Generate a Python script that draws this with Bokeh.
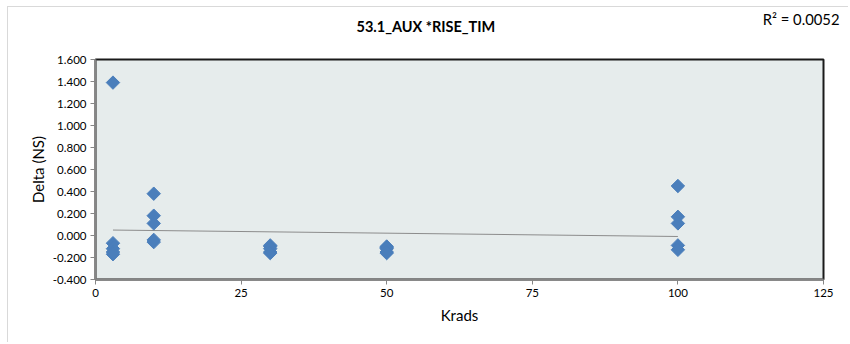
import numpy as np
from bokeh.plotting import figure
from bokeh.models import Label, NumeralTickFormatter, FixedTicker, Range1d, ColumnDataSource
from bokeh.embed import file_html
from bokeh.resources import INLINE

# Data
dose_levels = [3, 10, 30, 50, 100]
delta_3 = [1.39, -0.07, -0.12, -0.15, -0.17]
delta_10 = [0.38, 0.18, 0.11, -0.04, -0.06]
delta_30 = [-0.09, -0.10, -0.12, -0.15, -0.16]
delta_50 = [-0.10, -0.11, -0.12, -0.15, -0.16]
delta_100 = [0.45, 0.17, 0.11, -0.09, -0.13]
x_ticks = [0, 25, 50, 75, 100, 125]
y_ticks = [-0.4, -0.2, 0.0, 0.2, 0.4, 0.6, 0.8, 1.0, 1.2, 1.4, 1.6]
title_text = "53.1_AUX  *RISE_TIM"
r2_text = "R\u00b2 = 0.0052"

groups = [delta_3, delta_10, delta_30, delta_50, delta_100]
xs, ys = [], []
for d, vals in zip(dose_levels, groups):
    xs += [d] * len(vals)
    ys += vals
xs = np.array(xs, dtype=float)
ys = np.array(ys, dtype=float)
slope, intercept = np.polyfit(xs, ys, 1)
fit_x = np.array([xs.min(), xs.max()])
fit_y = slope * fit_x + intercept

FONT = "Lato"

p = figure(width=841, height=336, output_backend="svg", toolbar_location=None,
           x_range=Range1d(0, 125), y_range=Range1d(-0.4, 1.6),
           min_border_left=87, min_border_right=26, min_border_top=52, min_border_bottom=64,
           background_fill_color="#e6ecec", border_fill_color="white")
p.styles = {"margin-left": "7px", "margin-top": "6px",
            "border-top": "1px solid #d9d9d9", "border-left": "1px solid #d9d9d9"}
p.grid.visible = False
p.outline_line_color = "#1a1a1a"
p.outline_line_width = 2

p.title.text = title_text
p.title.align = "left"
p.title.offset = 261
p.title.standoff = 13
p.title.text_font = FONT
p.title.text_font_style = "bold"
p.title.text_font_size = "14.5px"
p.title.text_color = "#000000"

r2_label = Label(x=744, y=41, x_units="screen", y_units="screen", text=r2_text,
                 text_align="right", text_baseline="middle", text_font=FONT,
                 text_font_size="14.8px", text_color="#000000")
p.add_layout(r2_label, "above")

p.xaxis.ticker = FixedTicker(ticks=x_ticks)
p.yaxis.ticker = FixedTicker(ticks=y_ticks)
p.yaxis.formatter = NumeralTickFormatter(format="0.000")
for ax in (p.xaxis, p.yaxis):
    ax.axis_line_color = "#868686"
    ax.axis_line_width = 2
    ax.major_tick_line_color = "#868686"
    ax.major_tick_out = 5
    ax.major_tick_in = 0
    ax.minor_tick_line_color = None
    ax.major_label_text_font = FONT
    ax.major_label_text_font_size = "11.5px"
    ax.major_label_text_color = "#000000"
    ax.axis_label_text_font = FONT
    ax.axis_label_text_font_size = "15px"
    ax.axis_label_text_font_style = "normal"
    ax.axis_label_text_color = "#000000"
p.xaxis.axis_label = "Krads"
p.yaxis.axis_label = "Delta (NS)"
p.xaxis.major_label_standoff = 4
p.yaxis.major_label_standoff = 4
p.xaxis.axis_label_standoff = 6
p.yaxis.axis_label_standoff = 3

p.line(fit_x, fit_y, line_color="#8c8c8c", line_width=1)
src = ColumnDataSource(dict(x=xs, y=ys))
p.scatter("x", "y", source=src, marker="square", angle=np.pi / 4, size=9.5,
          fill_color="#4a7ebb", line_color="#4a7ebb")

open("out.html", "w").write(file_html(p, INLINE))
